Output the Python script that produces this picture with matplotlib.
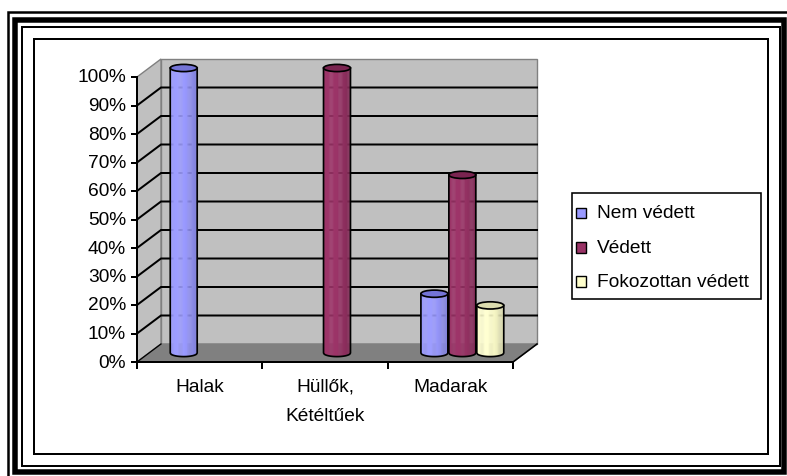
import numpy as np
import matplotlib
matplotlib.use("Agg")
import matplotlib.pyplot as plt
from matplotlib.patches import Polygon, Rectangle, Ellipse
from matplotlib.lines import Line2D
from matplotlib.transforms import IdentityTransform
import matplotlib.colors as mcolors

# ---------------- data ----------------
categories = ["Halak", "Hüllők,\nKétéltűek", "Madarak"]
series_names = ["Nem védett", "Védett", "Fokozottan védett"]
nem_vedett = [100, 0, 20.8]
vedett = [0, 100, 62.5]
fokozottan_vedett = [0, 0, 16.7]
y_ticks = [0, 10, 20, 30, 40, 50, 60, 70, 80, 90, 100]
y_tick_labels = [f"{v}%" for v in y_ticks]
series_colors = ["#9999FF", "#993366", "#FFFFCC"]
series_top_colors = ["#7474D6", "#7A2450", "#DCDCAE"]

series_values = [nem_vedett, vedett, fokozottan_vedett]

# ---------------- figure ----------------
W, H = 787, 477
DPI = 100
plt.rcParams['font.family'] = ['Liberation Sans', 'DejaVu Sans']
fig = plt.figure(figsize=(W / DPI, H / DPI), dpi=DPI)
fig.patch.set_facecolor("white")
FS = 13.8


def fx(px):
    return px / W


def fy(py):
    return 1 - py / H


def pt(px):
    return px * 72.0 / DPI


# frames (figure level)
def frame(x0, y0, x1, y1, lwpx, color="black"):
    r = Rectangle((fx(x0), fy(y1)), fx(x1) - fx(x0), fy(y0) - fy(y1),
                  transform=fig.transFigure, fill=False, ec=color,
                  lw=pt(lwpx), joinstyle="miter")
    fig.add_artist(r)


frame(8, 13, 800, 490, 2.5)
frame(15, 20.5, 784, 472.5, 5.5)
frame(21.7, 28, 780, 467, 2)
frame(34.3, 39.5, 767.5, 455, 2)

# plotting axes = front plane of 3D box
ax = fig.add_axes([fx(137), fy(363), (513 - 137) / W, (363 - 78) / H])
ax.set_xlim(0, len(categories))
ax.set_ylim(0, 100)
ax.axis("off")

DX, DY = 24, 18  # full depth offset in pixels
IT = IdentityTransform()


def P(x, y, d):
    X, Y = ax.transData.transform((x, y))
    return (X + d * DX, Y + d * DY)


def poly(pts, **kw):
    p = Polygon(pts, closed=True, transform=IT, clip_on=False, **kw)
    ax.add_patch(p)
    return p


def line(pts, **kw):
    xs = [p[0] for p in pts]
    ys = [p[1] for p in pts]
    l = Line2D(xs, ys, transform=IT, clip_on=False, **kw)
    ax.add_line(l)
    return l


ncat = len(categories)
WALL = "#C0C0C0"
EDGE = "#808080"
GRID_LW = pt(2.0)

# back wall
poly([P(0, 0, 1), P(ncat, 0, 1), P(ncat, 100, 1), P(0, 100, 1)],
     fc=WALL, ec=EDGE, lw=1, zorder=1)
# side wall
poly([P(0, 0, 0), P(0, 0, 1), P(0, 100, 1), P(0, 100, 0)],
     fc=WALL, ec=EDGE, lw=1, zorder=1)
# floor
poly([P(0, 0, 0), P(ncat, 0, 0), P(ncat, 0, 1), P(0, 0, 1)],
     fc="#808080", ec=EDGE, lw=1, zorder=1.5)

# gridlines
for v in y_ticks[1:-1]:
    line([P(0, v, 0), P(0, v, 1), P(ncat, v, 1)], color="black", lw=GRID_LW,
         zorder=2, solid_joinstyle="miter")
line([P(0, 0, 0), P(0, 0, 1)], color="black", lw=pt(1.3), zorder=2)

# floor edges
line([P(ncat, 0, 0), P(ncat, 0, 1)], color="black", lw=pt(1.6), zorder=2)

# y axis
line([P(0, 0, 0), P(0, 100, 0)], color="black", lw=pt(2.0), zorder=3)
for v, lab in zip(y_ticks, y_tick_labels):
    X, Y = P(0, v, 0)
    line([(X - 5, Y), (X, Y)], color="black", lw=pt(2.0), zorder=3)
    ax.text(X - 11, Y, lab, transform=IT, ha="right", va="center",
            fontsize=FS, color="black", clip_on=False)

# x axis
line([P(0, 0, 0), P(ncat, 0, 0)], color="black", lw=pt(2.0), zorder=3)
for i in range(ncat + 1):
    X, Y = P(i, 0, 0)
    line([(X, Y), (X, Y - 6)], color="black", lw=pt(2.0), zorder=3)
for i, lab in enumerate(categories):
    X, Y = P(i + 0.5, 0, 0)
    ax.text(X, Y - 16, lab, transform=IT, ha="center", va="top",
            fontsize=FS, linespacing=1.9, color="black", clip_on=False,
            multialignment="center")

# cylinders
BAR_W = 0.215
SPACING = 0.223
EB = 3.6  # ellipse half height px


def shade(color, f):
    r, g, b = mcolors.to_rgb(color)
    return (min(1, r * f), min(1, g * f), min(1, b * f))


def cylinder(xc, v, color, topcolor, z):
    cx, yb = P(xc, 0, 0.5)
    _, yt = P(xc, v, 0.5)
    xr, _ = P(xc + BAR_W / 2, 0, 0.5)
    a = xr - cx
    N = 24
    edges = np.linspace(cx - a, cx + a, N + 1)
    for j in range(N):
        x0, x1 = edges[j], edges[j + 1]
        t = (0.5 * (x0 + x1) - (cx - a)) / (2 * a)
        if t < 0.55:
            f = 1.0 + 0.03 * np.sin(np.pi * t / 0.55)
        else:
            f = 1.0 - 0.16 * (t - 0.55) / 0.45
        xs = np.linspace(x1, x0, 6)
        arc = [(x, yb - EB * np.sqrt(max(0.0, 1 - ((x - cx) / a) ** 2))) for x in xs]
        pts = [(x0, yt), (x1 + 0.3, yt)] + [(x1 + 0.3, arc[0][1])] + arc[1:]
        poly(pts, fc=shade(color, f), ec="none", lw=0, zorder=z)
    # outline
    xs = np.linspace(cx - a, cx + a, 40)
    arc = [(x, yb - EB * np.sqrt(max(0.0, 1 - ((x - cx) / a) ** 2))) for x in xs]
    line([(cx - a, yt)] + arc + [(cx + a, yt)], color="black", lw=pt(1.7),
         zorder=z + 0.1, solid_joinstyle="round")
    e = Ellipse((cx, yt), 2 * a, 2 * EB, transform=IT, clip_on=False,
                fc=topcolor, ec="black", lw=pt(1.7), zorder=z + 0.2)
    ax.add_patch(e)


z = 4
for s, (vals, col, tcol) in enumerate(zip(series_values, series_colors, series_top_colors)):
    for i, v in enumerate(vals):
        if v <= 0:
            continue
        xc = i + 0.5 + (s - 1) * SPACING
        cylinder(xc, v, col, tcol, z)
        z += 1

# legend (manual)
lx0, ly0, lx1, ly1 = 572, 194, 761, 300
fig.add_artist(Rectangle((fx(lx0), fy(ly1)), fx(lx1) - fx(lx0), fy(ly0) - fy(ly1),
                         transform=fig.transFigure, fill=False, ec="black",
                         lw=pt(1.6)))
row_y = [214, 248.5, 282.5]
for name, col, ry in zip(series_names, series_colors, row_y):
    fig.add_artist(Rectangle((fx(575.5), fy(ry + 5.2)), 10.5 / W, 10.5 / H,
                             transform=fig.transFigure, fc=col, ec="black",
                             lw=pt(1.4)))
    fig.text(fx(597), fy(ry), name, ha="left", va="center", fontsize=FS,
             color="black")

fig.savefig("out.png", dpi=DPI, facecolor="white")
